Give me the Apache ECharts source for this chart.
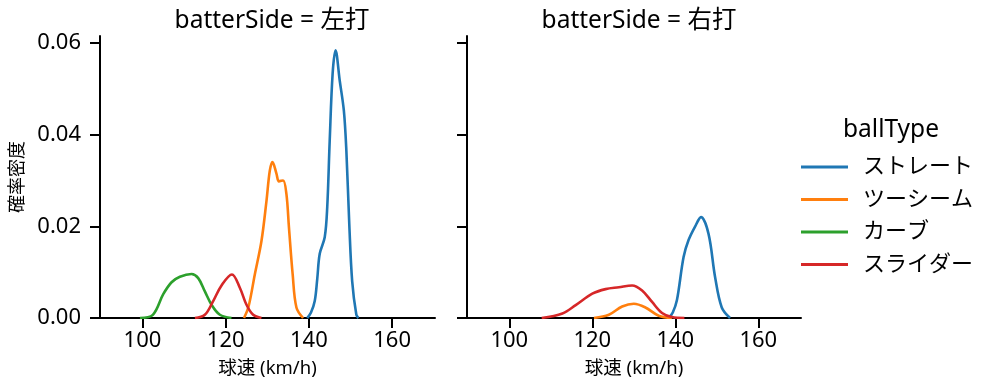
<!DOCTYPE html>
<html>
<head>
<meta charset="utf-8">
<script src="https://cdn.jsdelivr.net/npm/echarts@6/dist/echarts.min.js"></script>
<style>html,body{margin:0;padding:0;background:#fff;}#c{width:995px;height:391px;}</style>
</head>
<body>
<div id="c"></div>
<script>
const FONT = '"Noto Sans", "Noto Sans CJK JP", sans-serif';
const panelTitles = ['batterSide = 左打', 'batterSide = 右打'];
const ballTypes = ['ストレート', 'ツーシーム', 'カーブ', 'スライダー'];
const colors = ['#1f77b4', '#ff7f0e', '#2ca02c', '#d62728'];
const xTicks = [100, 120, 140, 160];
const yTicks = [0, 0.02, 0.04, 0.06];

// 左打 (left panel) density curves [speed, density]
const leftStraight = [[139.6,0],[140.5,0.0012],[141.4,0.0037],[142.0,0.0085],[142.6,0.014],[143.8,0.0176],[144.4,0.0241],[145.0,0.0387],[145.7,0.0533],[146.4,0.0584],[147.4,0.0518],[148.4,0.0452],[149.0,0.0365],[149.7,0.0205],[150.4,0.008],[151.4,0.0007],[151.9,0]];
const leftTwoSeam = [[124.4,0],[125.5,0.0025],[127.0,0.0095],[128.6,0.0168],[129.8,0.0255],[130.6,0.0321],[131.25,0.034],[132.2,0.0315],[132.8,0.0298],[133.8,0.030],[134.6,0.027],[135.2,0.0198],[136.1,0.0095],[137.0,0.0023],[138.6,0]];
const leftCurve = [[99.4,0],[102.5,0.0007],[105.0,0.0052],[107.0,0.0078],[109.0,0.009],[111.8,0.0096],[113.4,0.0087],[115.0,0.0058],[116.6,0.0029],[118.6,0.0007],[121.4,0]];
const leftSlider = [[112.6,0],[115.0,0.0007],[117.0,0.0037],[119.0,0.0071],[121.5,0.0095],[123.4,0.0066],[125.0,0.0029],[126.6,0.0007],[128.6,0]];

// 右打 (right panel) density curves
const rightStraight = [[138.4,0],[139.4,0.0012],[140.4,0.0039],[142.0,0.0133],[143.2,0.017],[144.8,0.0200],[146.2,0.022],[148.0,0.0184],[149.6,0.0089],[151.2,0.0023],[153.2,0]];
const rightTwoSeam = [[120.4,0],[124.0,0.0007],[127.2,0.0025],[130.0,0.0031],[132.8,0.0023],[136.0,0.0005],[139.2,0]];
const rightCurve = [];
const rightSlider = [[107.8,0],[112.8,0.001],[116.0,0.0028],[120.0,0.0053],[123.2,0.0063],[126.4,0.0067],[129.6,0.0071],[132.0,0.006],[134.4,0.0035],[136.8,0.0011],[139.2,0.0002],[142.2,0]];

const leftData = [leftStraight, leftTwoSeam, leftCurve, leftSlider];
const rightData = [rightStraight, rightTwoSeam, rightCurve, rightSlider];

const X_MIN = 89.8, X_MAX = 170.3, Y_MAX = 0.0615;

function xAxis(gi) {
  return {
    type: 'value', gridIndex: gi, min: X_MIN, max: X_MAX,
    axisLine: {show: true, lineStyle: {color: '#000', width: 2}},
    axisTick: {show: true, length: 10, lineStyle: {color: '#000', width: 2}, customValues: xTicks},
    axisLabel: {show: true, fontFamily: FONT, fontSize: 22, color: '#000', margin: 12, customValues: xTicks},
    splitLine: {show: false},
    name: '球速 (km/h)', nameLocation: 'middle', nameGap: 41,
    nameTextStyle: {fontFamily: FONT, fontSize: 18.5, color: '#000'}
  };
}
function yAxis(gi, showLabel) {
  return {
    type: 'value', gridIndex: gi, min: 0, max: Y_MAX,
    axisLine: {show: true, lineStyle: {color: '#000', width: 2}},
    axisTick: {show: true, length: 10, lineStyle: {color: '#000', width: 2}, customValues: yTicks},
    axisLabel: {show: showLabel, fontFamily: FONT, fontSize: 22, color: '#000', margin: 19,
      customValues: yTicks, formatter: v => v.toFixed(2)},
    splitLine: {show: false},
    name: showLabel ? '確率密度' : '', nameLocation: 'middle', nameGap: 73, nameRotate: 90,
    nameTextStyle: {fontFamily: FONT, fontSize: 18, color: '#000'}
  };
}

const series = [];
[leftData, rightData].forEach((panel, gi) => {
  panel.forEach((d, i) => {
    series.push({
      name: ballTypes[i], type: 'line', xAxisIndex: gi, yAxisIndex: gi,
      data: d, smooth: 0.35, showSymbol: false, symbol: 'none',
      lineStyle: {color: colors[i], width: 2.6}, itemStyle: {color: colors[i]},
      animation: false
    });
  });
});

const chart = echarts.init(document.getElementById('c'), null, {renderer: 'canvas'});
chart.setOption({
  backgroundColor: '#fff',
  animation: false,
  title: [
    {text: panelTitles[0], left: 267, top: 4, textAlign: 'center', textStyle: {fontFamily: FONT, fontSize: 24.5, fontWeight: 'normal', color: '#000'}},
    {text: panelTitles[1], left: 634, top: 4, textAlign: 'center', textStyle: {fontFamily: FONT, fontSize: 24.5, fontWeight: 'normal', color: '#000'}},
    {text: 'ballType', left: 886, top: 113, textAlign: 'center', textStyle: {fontFamily: FONT, fontSize: 24.5, fontWeight: 'normal', color: '#000'}}
  ],
  grid: [
    {left: 100, top: 36, width: 335, height: 282},
    {left: 467, top: 36, width: 334, height: 282}
  ],
  xAxis: [xAxis(0), xAxis(1)],
  yAxis: [yAxis(0, true), yAxis(1, false)],
  legend: {
    orient: 'vertical', left: 796, top: 151,
    data: ballTypes, icon: 'rect', itemWidth: 47, itemHeight: 3, itemGap: 10.5,
    textStyle: {fontFamily: FONT, fontSize: 22, color: '#000', lineHeight: 22, padding: [0, 0, 0, 10]}
  },
  series: series
});
</script>
</body>
</html>
